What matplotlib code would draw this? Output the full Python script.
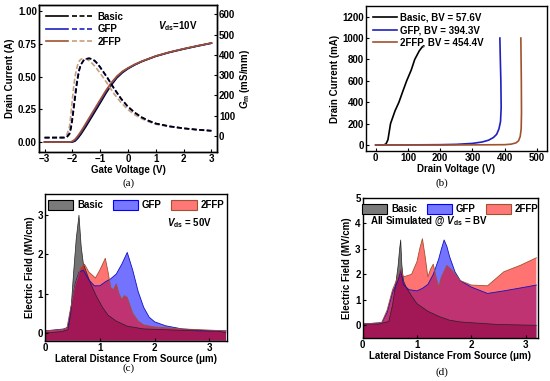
import matplotlib
matplotlib.use("Agg")
import matplotlib.pyplot as plt
from matplotlib.patches import Patch
from matplotlib.legend_handler import HandlerTuple

plt.rcParams['font.family'] = 'Liberation Sans'
plt.rcParams['font.weight'] = 'bold'
plt.rcParams['axes.labelweight'] = 'bold'
plt.rcParams['font.size'] = 7
plt.rcParams['mathtext.fontset'] = 'custom'
plt.rcParams['mathtext.rm'] = 'Liberation Sans:bold'
plt.rcParams['mathtext.it'] = 'Liberation Sans:italic:bold'
plt.rcParams['mathtext.bf'] = 'Liberation Sans:bold'

BROWN = '#a0522d'

# ---- (a) transfer curves
vg = [-3.0, -2.2, -2.1, -2.0, -1.9, -1.8, -1.7, -1.6, -1.5, -1.4, -1.3, -1.2, -1.1, -1.0,
      -0.8, -0.6, -0.4, -0.2, 0.0, 0.25, 0.5, 0.75, 1.0, 1.5, 2.0, 2.5, 3.0]
id_basic = [0, 0, 0, 0, 0.008, 0.03, 0.058, 0.09, 0.123, 0.158, 0.193, 0.228, 0.263, 0.298,
            0.37, 0.435, 0.49, 0.53, 0.56, 0.59, 0.615, 0.635, 0.655, 0.685, 0.71, 0.733, 0.755]
id_gfp = [0, 0, 0, 0.003, 0.015, 0.04, 0.07, 0.103, 0.137, 0.172, 0.207, 0.242, 0.277, 0.312,
          0.382, 0.445, 0.497, 0.535, 0.563, 0.592, 0.616, 0.636, 0.656, 0.686, 0.711, 0.734, 0.755]
id_2ffp = [0, 0, 0, 0.006, 0.022, 0.048, 0.079, 0.113, 0.148, 0.183, 0.218, 0.253, 0.288, 0.323,
           0.392, 0.453, 0.503, 0.54, 0.566, 0.594, 0.617, 0.637, 0.657, 0.687, 0.712, 0.735, 0.756]

vg_gm = [-3.0, -2.3, -2.2, -2.1, -2.05, -2.0, -1.95, -1.9, -1.85, -1.8, -1.75, -1.7, -1.6, -1.5,
         -1.4, -1.3, -1.2, -1.1, -1.0, -0.75, -0.5, -0.25, 0.0, 0.25, 0.5, 0.75, 1.0, 1.5, 2.0, 2.5, 3.0]
gm_basic = [-8, -8, -6, 10, 38, 80, 135, 190, 245, 290, 325, 350, 372, 380,
            383, 380, 372, 358, 340, 290, 235, 185, 145, 115, 92, 75, 62, 48, 38, 31, 26]
gm_gfp = [-8, -8, -5, 15, 48, 95, 150, 205, 258, 298, 330, 352, 372, 381,
          383, 379, 370, 356, 338, 288, 233, 183, 143, 114, 91, 74, 61, 47, 38, 31, 26]
gm_2ffp = [-8, -6, 5, 48, 110, 180, 245, 295, 330, 355, 370, 378, 382, 380,
           372, 360, 345, 328, 310, 260, 208, 165, 130, 104, 85, 70, 58, 46, 37, 30, 25]

# ---- (b) breakdown curves
vd_basic = [0, 25, 32, 38, 46, 60, 72, 85, 96, 110, 121, 135, 145]
ib_basic = [0, 1, 10, 50, 200, 320, 400, 510, 600, 700, 800, 880, 920]
vd_gfp = [0, 100, 200, 250, 300, 330, 350, 365, 375, 382, 387, 389, 388, 386, 385]
ib_gfp = [0, 1, 3, 6, 15, 28, 45, 70, 100, 150, 220, 350, 600, 850, 1000]
vd_2ffp = [0, 100, 200, 300, 400, 420, 435, 443, 448, 451, 452, 451.5, 450]
ib_2ffp = [0, 0, 0, 1, 3, 8, 20, 40, 80, 150, 300, 600, 1000]

# ---- (c) field at Vds = 50V
xc_basic = [0, 0.3, 0.42, 0.47, 0.52, 0.57, 0.62, 0.66, 0.70, 0.78, 0.85, 0.95, 1.05, 1.15,
            1.3, 1.5, 1.8, 2.2, 2.8, 3.15, 3.3]
ec_basic = [0.0, 0.03, 0.08, 0.5, 1.5, 2.4, 3.0, 2.2, 1.76, 1.45, 1.2, 0.9, 0.65, 0.45,
            0.3, 0.17, 0.1, 0.08, 0.05, 0.05, 0.0]
xc_gfp = [0, 0.35, 0.42, 0.47, 0.55, 0.62, 0.7, 0.8, 0.9, 1.0, 1.1, 1.2, 1.3, 1.4, 1.5, 1.6,
          1.7, 1.8, 1.9, 2.0, 2.2, 2.5, 3.0, 3.3]
ec_gfp = [0.05, 0.1, 0.15, 0.6, 1.25, 1.55, 1.6, 1.35, 1.2, 1.2, 1.3, 1.38, 1.5, 1.75, 2.05, 1.6,
          1.05, 0.65, 0.4, 0.28, 0.18, 0.1, 0.05, 0.05]
xc_2ffp = [0, 0.3, 0.4, 0.45, 0.55, 0.65, 0.72, 0.8, 0.92, 1.0, 1.1, 1.15, 1.2, 1.25, 1.3, 1.35,
           1.4, 1.45, 1.5, 1.6, 1.7, 1.8, 2.0, 2.5, 3.0, 3.3]
ec_2ffp = [0.05, 0.08, 0.12, 0.5, 1.2, 1.65, 1.75, 1.55, 1.4, 1.6, 1.9, 1.55, 1.15, 1.1, 1.25, 1.0,
           0.85, 0.95, 0.9, 0.5, 0.3, 0.2, 0.15, 0.1, 0.07, 0.05]

# ---- (d) field at Vds = BV
xd_basic = [0, 0.3, 0.48, 0.55, 0.6, 0.65, 0.68, 0.7, 0.72, 0.75, 0.8, 0.9, 1.0, 1.2, 1.4, 1.6,
            1.8, 2.0, 2.5, 3.2]
ed_basic = [0.05, 0.05, 0.15, 0.8, 1.5, 2.3, 3.0, 3.35, 2.4, 1.75, 1.5, 1.15, 0.85, 0.55, 0.35, 0.2,
            0.13, 0.1, 0.03, 0.0]
xd_gfp = [0, 0.35, 0.45, 0.55, 0.65, 0.7, 0.75, 0.85, 1.0, 1.1, 1.2, 1.3, 1.4, 1.45, 1.5, 1.55,
          1.6, 1.7, 1.8, 2.0, 2.3, 2.6, 3.0, 3.2]
ed_gfp = [0.05, 0.1, 0.5, 1.3, 1.75, 2.2, 1.6, 1.4, 1.35, 1.45, 1.6, 2.0, 2.6, 3.0, 3.35, 3.1,
          2.7, 2.1, 1.75, 1.5, 1.25, 1.35, 1.5, 1.58]
xd_2ffp = [0, 0.35, 0.45, 0.55, 0.65, 0.7, 0.75, 0.9, 1.0, 1.05, 1.1, 1.15, 1.2, 1.25, 1.3, 1.35,
           1.4, 1.45, 1.55, 1.65, 1.8, 2.0, 2.3, 2.6, 2.9, 3.2]
ed_2ffp = [0.05, 0.1, 0.6, 1.4, 1.9, 2.2, 1.9, 2.0, 2.5, 3.0, 3.4, 2.7, 1.9, 2.2, 2.4, 1.9,
           1.5, 1.9, 2.35, 2.15, 1.75, 1.58, 1.55, 2.1, 2.35, 2.65]

fig = plt.figure(figsize=(5.5, 3.81), dpi=100)


def style(ax):
    for s in ax.spines.values():
        s.set_linewidth(1.0)
    ax.tick_params(direction='in', length=2.5, width=0.8, labelsize=7, pad=1.5)


# (a)
ax = fig.add_axes([0.0709, 0.601, 0.3236, 0.3858])
ax2 = ax.twinx()
l1, = ax.plot(vg, id_basic, color='black', lw=1.2)
l2, = ax.plot(vg, id_gfp, color='#2020c0', lw=1.2)
l3, = ax.plot(vg, id_2ffp, color=BROWN, lw=1.2)
dash = (0, (3, 1.5))
d3, = ax2.plot(vg_gm, gm_2ffp, color='#c8a078', lw=1.2, ls=dash)
d2, = ax2.plot(vg_gm, gm_gfp, color='#2020c0', lw=1.2, ls=dash)
d1, = ax2.plot(vg_gm, gm_basic, color='black', lw=1.2, ls=dash)
ax.set_xlim(-3.2, 3.2)
ax.set_ylim(-0.076, 1.046)
ax2.set_ylim(-79, 646)
ax.set_xticks([-3, -2, -1, 0, 1, 2, 3])
ax.set_yticks([0, 0.25, 0.5, 0.75, 1.0])
ax.set_yticklabels(['0.00', '0.25', '0.50', '0.75', '1.00'])
ax2.set_yticks([0, 100, 200, 300, 400, 500, 600])
ax.set_xlabel('Gate Voltage (V)', labelpad=1)
ax.set_ylabel('Drain Current (A)', labelpad=2)
ax2.set_ylabel(r'$G_{\rm m}$ (mS/mm)', labelpad=2)
style(ax)
style(ax2)
ax.legend([(l1, d1), (l2, d2), (l3, d3)], ['Basic', 'GFP', '2FFP'],
          handler_map={tuple: HandlerTuple(ndivide=None, pad=0.4)},
          loc='upper left', frameon=False, handlelength=5.0, handletextpad=0.3,
          labelspacing=0.25, fontsize=7, borderaxespad=0.3)
ax.text(0.893, 0.857, r'$V_{\rm ds}$=10V', transform=ax.transAxes, ha='right', va='center', fontsize=7)

# (b)
bx = fig.add_axes([0.6655, 0.6037, 0.329, 0.3806])
bx.plot(vd_basic, ib_basic, color='black', lw=1.2, label='Basic, BV = 57.6V')
bx.plot(vd_gfp, ib_gfp, color='#2020c0', lw=1.2, label='GFP, BV = 394.3V')
bx.plot(vd_2ffp, ib_2ffp, color=BROWN, lw=1.2, label='2FFP, BV = 454.4V')
bx.set_xlim(-30, 531)
bx.set_ylim(-56, 1300)
bx.set_xticks([0, 100, 200, 300, 400, 500])
bx.set_yticks([0, 200, 400, 600, 800, 1000, 1200])
bx.set_xlabel('Drain Voltage (V)', labelpad=1)
bx.set_ylabel('Drain Current (mA)', labelpad=2)
style(bx)
bx.legend(loc='upper left', frameon=False, handlelength=2.5, handletextpad=0.3,
          labelspacing=0.25, fontsize=7, borderaxespad=0.3)


def field(ax, xb, eb, xg, eg, xf, ef, ylo):
    ax.fill_between(xb, eb, ylo, facecolor='black', alpha=0.55, edgecolor='none')
    ax.plot(xb, eb, color='#222222', lw=0.5)
    ax.fill_between(xg, eg, ylo, facecolor='blue', alpha=0.55, edgecolor='none')
    ax.plot(xg, eg, color='#1010c0', lw=0.6)
    ax.fill_between(xf, ef, ylo, facecolor='red', alpha=0.55, edgecolor='none')
    ax.plot(xf, ef, color=BROWN, lw=0.6)
    handles = [Patch(facecolor='#7a7a7a', edgecolor='black', lw=0.8),
               Patch(facecolor='#7878ff', edgecolor='blue', lw=0.8),
               Patch(facecolor='#ff7878', edgecolor=BROWN, lw=0.8)]
    ax.legend(handles, ['Basic', 'GFP', '2FFP'], loc='upper center', ncol=3, frameon=False,
              handlelength=2.6, handleheight=1.3, handletextpad=0.4, columnspacing=1.0,
              fontsize=7, borderaxespad=0.2)
    ax.set_xlabel('Lateral Distance From Source (\u03bcm)', labelpad=1)
    ax.set_ylabel('Electric Field (MV/cm)', labelpad=2)
    style(ax)


# (c)
cx = fig.add_axes([0.0818, 0.1058, 0.331, 0.385])
field(cx, xc_basic, ec_basic, xc_gfp, ec_gfp, xc_2ffp, ec_2ffp, -0.2)
cx.set_xlim(0, 3.32)
cx.set_ylim(-0.2, 3.54)
cx.set_xticks([0, 1, 2, 3])
cx.set_yticks([0, 1, 2, 3])
cx.text(0.92, 0.80, r'$V_{\rm ds}$ = 50V', transform=cx.transAxes, ha='right', va='center', fontsize=7)

# (d)
dx = fig.add_axes([0.6595, 0.1129, 0.3187, 0.3675])
field(dx, xd_basic, ed_basic, xd_gfp, ed_gfp, xd_2ffp, ed_2ffp, -0.5)
dx.set_xlim(0, 3.23)
dx.set_ylim(-0.5, 5)
dx.set_xticks([0, 1, 2, 3])
dx.set_yticks([0, 1, 2, 3, 4, 5])
dx.text(0.04, 0.83, r'All Simulated @ $V_{\rm ds}$ = BV', transform=dx.transAxes,
        ha='left', va='center', fontsize=7)

for txt, x, y in [('(a)', 0.233, 0.52), ('(b)', 0.803, 0.52), ('(c)', 0.233, 0.034), ('(d)', 0.803, 0.024)]:
    fig.text(x, y, txt, ha='center', va='center', family='Liberation Serif', weight='normal', fontsize=8)

fig.savefig('out.png', dpi=100)
